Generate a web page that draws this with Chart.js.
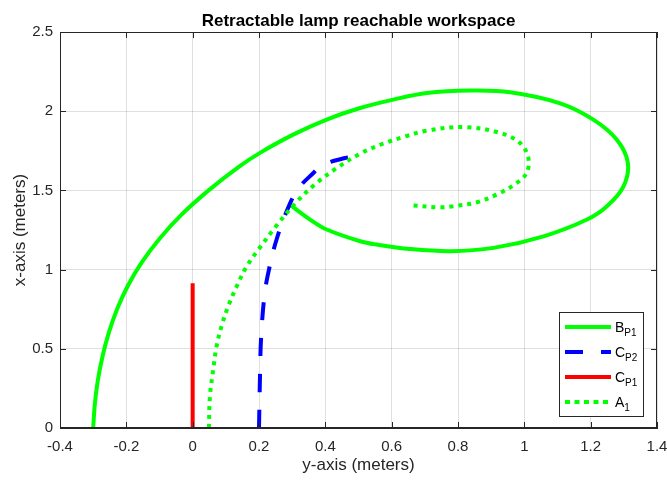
<!DOCTYPE html>
<html>
<head>
<meta charset="utf-8">
<script src="https://cdn.jsdelivr.net/npm/chart.js@4.4.1/dist/chart.umd.min.js"></script>
<style>
    html, body { margin: 0; padding: 0; background: #ffffff; }
    #wrap { width: 667px; height: 480px; position: relative; }
</style>
</head>
<body>
<div id="wrap"><canvas id="lampChart"></canvas></div>
<script>
// Axis ticks
const xTicks = [-0.4, -0.2, 0, 0.2, 0.4, 0.6, 0.8, 1, 1.2, 1.4];
const yTicks = [0, 0.5, 1, 1.5, 2, 2.5];

// B_P1 — solid green spiral (y-axis value, x-axis value)
const bp1X = [-0.300, -0.295, -0.286, -0.272, -0.253, -0.228, -0.195, -0.152, -0.098, -0.032, 0.048, 0.140,
    0.203, 0.303, 0.404, 0.505, 0.605, 0.706, 0.837, 0.957, 1.108, 1.208, 1.279, 1.312, 1.299,
    1.249, 1.189, 1.058, 0.907, 0.776, 0.655, 0.555, 0.505, 0.404, 0.354, 0.293];
const bp1Y = [0.00, 0.15, 0.30, 0.45, 0.60, 0.75, 0.90, 1.05, 1.20, 1.35, 1.50, 1.65,
    1.737, 1.852, 1.947, 2.02, 2.073, 2.115, 2.13, 2.12, 2.05, 1.947, 1.82, 1.674, 1.526,
    1.40, 1.316, 1.21, 1.137, 1.116, 1.13, 1.158, 1.179, 1.253, 1.316, 1.41];

// C_P2 — blue dashed
const cp2X = [0.200, 0.203, 0.206, 0.215, 0.226, 0.253, 0.294, 0.324, 0.364, 0.384, 0.415, 0.445, 0.490];
const cp2Y = [0.00, 0.326, 0.558, 0.81, 0.96, 1.19, 1.42, 1.526, 1.61, 1.650, 1.68, 1.697, 1.716];

// C_P1 — red vertical segment
const cp1X = [0, 0];
const cp1Y = [0, 0.914];

// A_1 — green dotted spiral
const a1X = [0.049, 0.052, 0.062, 0.072, 0.087, 0.107, 0.133, 0.163, 0.198, 0.250, 0.310, 0.370, 0.435,
    0.505, 0.574, 0.640, 0.706, 0.821, 0.927, 0.987, 1.012, 1.007, 0.977, 0.927, 0.857, 0.786, 0.746, 0.660];
const a1Y = [0.00, 0.20, 0.369, 0.516, 0.642, 0.768, 0.895, 1.021, 1.126, 1.27, 1.42, 1.54, 1.642,
    1.732, 1.795, 1.84, 1.877, 1.90, 1.863, 1.80, 1.705, 1.61, 1.547, 1.484, 1.425, 1.40, 1.393, 1.406];

// Legend entries (main letter + subscript)
const legendMain = ['B', 'C', 'C', 'A'];
const legendSub = ['P1', 'P2', 'P1', '1'];

const chartTitle = 'Retractable lamp reachable workspace';

const axisColor = '#262626';
const gridColor = 'rgba(38, 38, 38, 0.15)';
const fontFamily = '"Liberation Sans", Arial, Helvetica, sans-serif';

function zip(xs, ys) {
    return xs.map((x, i) => ({ x: x, y: ys[i] }));
}

const seriesStyles = [
    { color: '#00ff00', dash: [] },
    { color: '#0000ff', dash: [18, 18] },
    { color: '#ff0000', dash: [] },
    { color: '#00ff00', dash: [4, 5] }
];

// Box, inward ticks, centred title and MATLAB-style legend
const matlabAxes = {
    id: 'matlabAxes',
    afterDatasetsDraw(chart) {
        const { ctx, chartArea: a, scales } = chart;
        const tl = 6;
        ctx.save();
        ctx.strokeStyle = axisColor;
        ctx.lineWidth = 1;
        ctx.beginPath();
        xTicks.forEach(v => {
            const px = Math.round(scales.x.getPixelForValue(v)) + 0.5;
            ctx.moveTo(px, a.bottom); ctx.lineTo(px, a.bottom - tl);
            ctx.moveTo(px, a.top); ctx.lineTo(px, a.top + tl);
        });
        yTicks.forEach(v => {
            const py = Math.round(scales.y.getPixelForValue(v)) + 0.5;
            ctx.moveTo(a.left, py); ctx.lineTo(a.left + tl, py);
            ctx.moveTo(a.right, py); ctx.lineTo(a.right - tl, py);
        });
        ctx.stroke();
        ctx.strokeRect(Math.round(a.left) + 0.5, Math.round(a.top) + 0.5,
            Math.round(a.right - a.left) - 1, Math.round(a.bottom - a.top) - 1);

        // title
        ctx.fillStyle = '#000000';
        ctx.font = 'bold 17px ' + fontFamily;
        ctx.textAlign = 'center';
        ctx.textBaseline = 'alphabetic';
        ctx.fillText(chartTitle, (a.left + a.right) / 2, 26);

        // legend
        const bx = 559.5, by = 312.5, bw = 84, bh = 104;
        ctx.fillStyle = '#ffffff';
        ctx.fillRect(bx, by, bw, bh);
        ctx.strokeStyle = axisColor;
        ctx.lineWidth = 1;
        ctx.strokeRect(bx, by, bw, bh);
        legendMain.forEach((txt, i) => {
            const st = seriesStyles[i];
            const ry = 327 + i * 25;
            ctx.strokeStyle = st.color;
            ctx.lineWidth = 4;
            ctx.lineCap = 'butt';
            ctx.setLineDash(i === 1 ? [18, 18] : (i === 3 ? [5, 4.5] : []));
            ctx.beginPath();
            ctx.moveTo(565, ry); ctx.lineTo(611, ry);
            ctx.stroke();
            ctx.setLineDash([]);
            ctx.fillStyle = '#000000';
            ctx.textAlign = 'left';
            ctx.font = '14px ' + fontFamily;
            ctx.fillText(txt, 615, ry + 5);
            const w = ctx.measureText(txt).width;
            ctx.font = '10px ' + fontFamily;
            ctx.fillText(legendSub[i], 615 + w, ry + 9);
        });
        ctx.restore();
    }
};

const datasets = [
    { label: 'B_P1', data: zip(bp1X, bp1Y), order: 3 },
    { label: 'C_P2', data: zip(cp2X, cp2Y), order: 2 },
    { label: 'C_P1', data: zip(cp1X, cp1Y), order: 1 },
    { label: 'A_1', data: zip(a1X, a1Y), order: 0 }
].map((d, i) => ({
    ...d,
    showLine: true,
    borderColor: seriesStyles[i].color,
    backgroundColor: seriesStyles[i].color,
    borderWidth: 4,
    borderDash: seriesStyles[i].dash,
    borderCapStyle: 'butt',
    pointRadius: 0,
    tension: 0.35,
    fill: false
}));

new Chart(document.getElementById('lampChart'), {
    type: 'scatter',
    data: { datasets: datasets },
    plugins: [matlabAxes],
    options: {
        responsive: true,
        maintainAspectRatio: false,
        animation: false,
        layout: { padding: { left: 0, right: 10, top: 32, bottom: 0 } },
        plugins: {
            legend: { display: false },
            tooltip: { enabled: false },
            title: { display: false }
        },
        scales: {
            x: {
                type: 'linear',
                min: -0.4,
                max: 1.4,
                afterBuildTicks: s => { s.ticks = xTicks.map(v => ({ value: v })); },
                afterFit: s => { s.height = 52; s.paddingLeft = 0; s.paddingRight = 0; },
                grid: { color: gridColor, drawTicks: false },
                border: { color: axisColor, width: 1 },
                ticks: {
                    color: axisColor,
                    padding: 10,
                    maxRotation: 0,
                    font: { family: fontFamily, size: 15 },
                    callback: v => String(v)
                },
                title: {
                    display: true,
                    text: 'y-axis (meters)',
                    color: axisColor,
                    font: { family: fontFamily, size: 17 },
                    padding: { top: 0, bottom: 4 }
                }
            },
            y: {
                type: 'linear',
                min: 0,
                max: 2.5,
                afterBuildTicks: s => { s.ticks = yTicks.map(v => ({ value: v })); },
                afterFit: s => { s.width = 60; s.paddingTop = 0; s.paddingBottom = 0; },
                grid: { color: gridColor, drawTicks: false },
                border: { color: axisColor, width: 1 },
                ticks: {
                    color: axisColor,
                    padding: 7,
                    font: { family: fontFamily, size: 15 },
                    callback: v => String(v)
                },
                title: {
                    display: true,
                    text: 'x-axis (meters)',
                    color: axisColor,
                    font: { family: fontFamily, size: 17 },
                    padding: { top: 10, bottom: 0 }
                }
            }
        }
    }
});
</script>
</body>
</html>
